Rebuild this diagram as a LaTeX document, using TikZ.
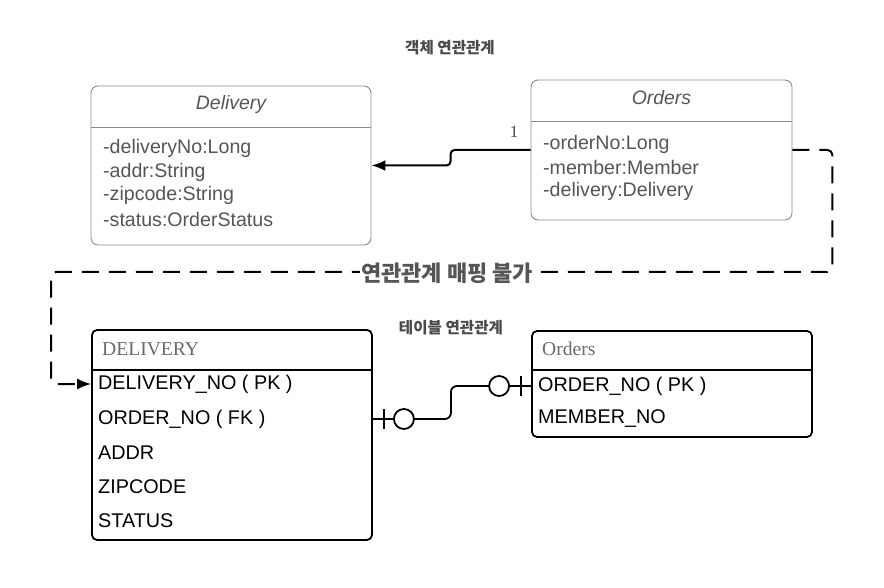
\documentclass[tikz,border=0pt]{standalone}
\usepackage{fontspec}
\setmainfont{Liberation Sans}
\newfontfamily\serifff{Liberation Serif}
\newfontfamily\kr{Noto Sans CJK KR}
\usetikzlibrary{arrows.meta,calc}
\definecolor{clsgray}{HTML}{8A8A8A}
\definecolor{txtgray}{HTML}{555555}
\definecolor{hdrgray}{HTML}{6A6A6A}
\definecolor{krgray}{HTML}{4A4A4A}
\tikzset{
  classbox/.style={draw=clsgray, line width=0.9pt, rounded corners=7pt},
  tablebox/.style={draw=black, line width=1.8pt, rounded corners=5pt},
  clsattr/.style={anchor=west, inner sep=0pt, text=txtgray, font=\fontsize{19.6}{21}\selectfont},
  clstitle/.style={inner sep=0pt, text=txtgray, font=\fontsize{19.4}{21}\selectfont\itshape},
  rowtext/.style={anchor=west, inner sep=0pt, text=black, font=\fontsize{19.8}{21}\selectfont},
  tbltitle/.style={anchor=west, inner sep=0pt, text=hdrgray, font=\fontsize{19.6}{21}\selectfont\serifff},
  krlabel/.style={inner sep=0pt, text=krgray, font=\fontsize{15.6}{17}\selectfont\kr\bfseries},
  assoc/.style={line width=2pt, rounded corners=4pt, -{Latex[length=14pt,width=11pt]}},
  nomap/.style={line width=2pt, dash pattern=on 17pt off 10pt, rounded corners=5pt, -{Latex[length=14pt,width=11pt]}},
  erline/.style={line width=1.8pt, rounded corners=6pt},
}
\begin{document}
\begin{tikzpicture}[x=1pt,y=-1pt]
\useasboundingbox (0,0) rectangle (884,588);

% titles
\node[krlabel] (t1) at (450,48) {객체 연관관계};
\node[krlabel] (t2) at (451,328) {테이블 연관관계};

% Delivery class
\node[classbox, minimum width=280pt, minimum height=159pt, inner sep=0pt] (delcls) at (231,165.5) {};
\draw[draw=clsgray, line width=0.9pt] (delcls.west |- 0,127) -- (delcls.east |- 0,127);
\node[clstitle] (delname) at (231,104) {Delivery};
\node[clsattr] (da1) at (103,148) {-deliveryNo:Long};
\node[clsattr] (da2) at (103,172) {-addr:String};
\node[clsattr] (da3) at (103,195) {-zipcode:String};
\node[clsattr] (da4) at (103,219) {-status:OrderStatus};

% Orders class
\node[classbox, minimum width=261pt, minimum height=140pt, inner sep=0pt] (ordcls) at (661.5,150) {};
\draw[draw=clsgray, line width=0.9pt] (ordcls.west |- 0,121) -- (ordcls.east |- 0,121);
\node[clstitle] (ordname) at (661.5,98) {Orders};
\node[clsattr] (oa1) at (543,144) {-orderNo:Long};
\node[clsattr] (oa2) at (543,167) {-member:Member};
\node[clsattr] (oa3) at (543,191) {-delivery:Delivery};

% association
\draw[assoc] (ordcls.west) -- ++(-80,0) |- (delcls.east);
\node[inner sep=0pt, text=krgray, font=\fontsize{17}{18}\selectfont\serifff] (one) at (514,132) {1};

% DELIVERY table
\node[tablebox, minimum width=280pt, minimum height=210pt, inner sep=0pt] (deltab) at (232,435) {};
\draw[line width=1.8pt] (deltab.west |- 0,370) -- (deltab.east |- 0,370);
\node[tbltitle] (delhdr) at (102,349) {DELIVERY};
\node[rowtext] (dpk) at (98,384) {DELIVERY\_NO ( PK )};
\node[rowtext] (dfk) at (98,419) {ORDER\_NO ( FK )};
\node[rowtext] (daddr) at (98,453) {ADDR};
\node[rowtext] (dzip) at (98,487) {ZIPCODE};
\node[rowtext] (dstat) at (98,521) {STATUS};

% Orders table
\node[tablebox, minimum width=280pt, minimum height=106pt, inner sep=0pt] (ordtab) at (672,384) {};
\draw[line width=1.8pt] (ordtab.west |- 0,370) -- (ordtab.east |- 0,370);
\node[tbltitle] (ordhdr) at (542,349) {Orders};
\node[rowtext] (opk) at (538,386) {ORDER\_NO ( PK )};
\node[rowtext] (omem) at (538,419) {MEMBER\_NO};

% impossible mapping (dashed)
\coordinate (dtarget) at (deltab.west |- dpk);
\draw[nomap] (ordcls.east) -- ++(40,0) |- (51,272) |- (dtarget);
\node[fill=white, inner sep=1pt, text=txtgray, font=\fontsize{22}{24}\selectfont\kr\bfseries] (nomaplbl) at (447,273) {연관관계 매핑 불가};

% ER relation
\coordinate (erA) at (deltab.east |- dfk);
\coordinate (erB) at (ordtab.west |- opk);
\draw[erline] (erA) -- ++(78,0) |- (erB);
\draw[line width=1.8pt] ($(erA)+(11,-10)$) -- ($(erA)+(11,10)$);
\draw[line width=1.8pt, fill=white] ($(erA)+(31,0)$) circle (10);
\draw[line width=1.8pt] ($(erB)+(-10,-10)$) -- ($(erB)+(-10,10)$);
\draw[line width=1.8pt, fill=white] ($(erB)+(-32,0)$) circle (10);
\end{tikzpicture}
\end{document}
